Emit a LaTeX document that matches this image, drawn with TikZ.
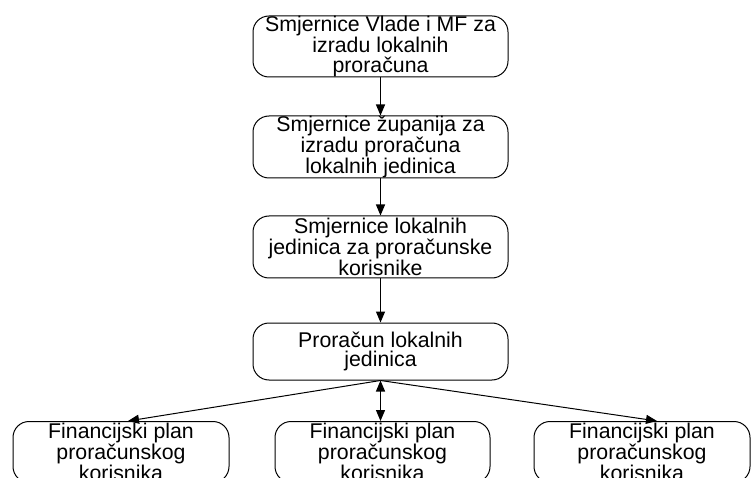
\documentclass[tikz,border=0pt]{standalone}
\usepackage{fontspec}
\setmainfont{Liberation Sans}
\usetikzlibrary{arrows.meta}
\tikzset{
  box/.style={draw=black, line width=1pt, rounded corners=16pt, align=center,
    inner sep=0pt, font=\fontsize{21.3pt}{19.6pt}\selectfont},
  topbox/.style={box, minimum width=255pt, minimum height=61pt},
  botbox/.style={box, minimum width=216pt, minimum height=61pt},
  arr/.style={line width=1.3pt, -{Triangle[length=11pt,width=9pt]}},
  darr/.style={line width=1.3pt, {Triangle[length=11pt,width=9pt]}-{Triangle[length=11pt,width=9pt]}},
  thinarr/.style={line width=1pt, -{Triangle[length=11pt,width=9pt]}}
}
\begin{document}
\begin{tikzpicture}[x=1pt,y=-1pt]
\useasboundingbox (0,0) rectangle (752,478);
\clip (0,0) rectangle (752,478);
\node[topbox] (t1) at (380.5,46.5) {Smjernice Vlade i MF za\\izradu lokalnih\\proračuna};
\node[topbox, minimum height=62pt] (t2) at (380.5,147) {Smjernice županija za\\izradu proračuna\\lokalnih jedinica};
\node[topbox, minimum height=62pt] (t3) at (380.5,247) {Smjernice lokalnih\\jedinica za proračunske\\korisnike};
\node[topbox, minimum height=57pt] (t4) at (380.5,351.5) {Proračun lokalnih\\jedinica};
\node[botbox] (b1) at (121,452) {Financijski plan\\proračunskog\\korisnika};
\node[botbox, minimum width=215pt] (b2) at (382.5,452) {Financijski plan\\proračunskog\\korisnika};
\node[botbox] (b3) at (642,452) {Financijski plan\\proračunskog\\korisnika};
\draw[arr] (t1) -- (t2);
\draw[arr] (t2) -- (t3);
\draw[arr] (t3) -- (t4);
\draw[darr] (t4.south) -- (t4.south |- b2.north);
\draw[thinarr] (t4.south) -- ([xshift=7pt]b1.north);
\draw[thinarr] (t4.south) -- ([xshift=15pt]b3.north);
\end{tikzpicture}
\end{document}
